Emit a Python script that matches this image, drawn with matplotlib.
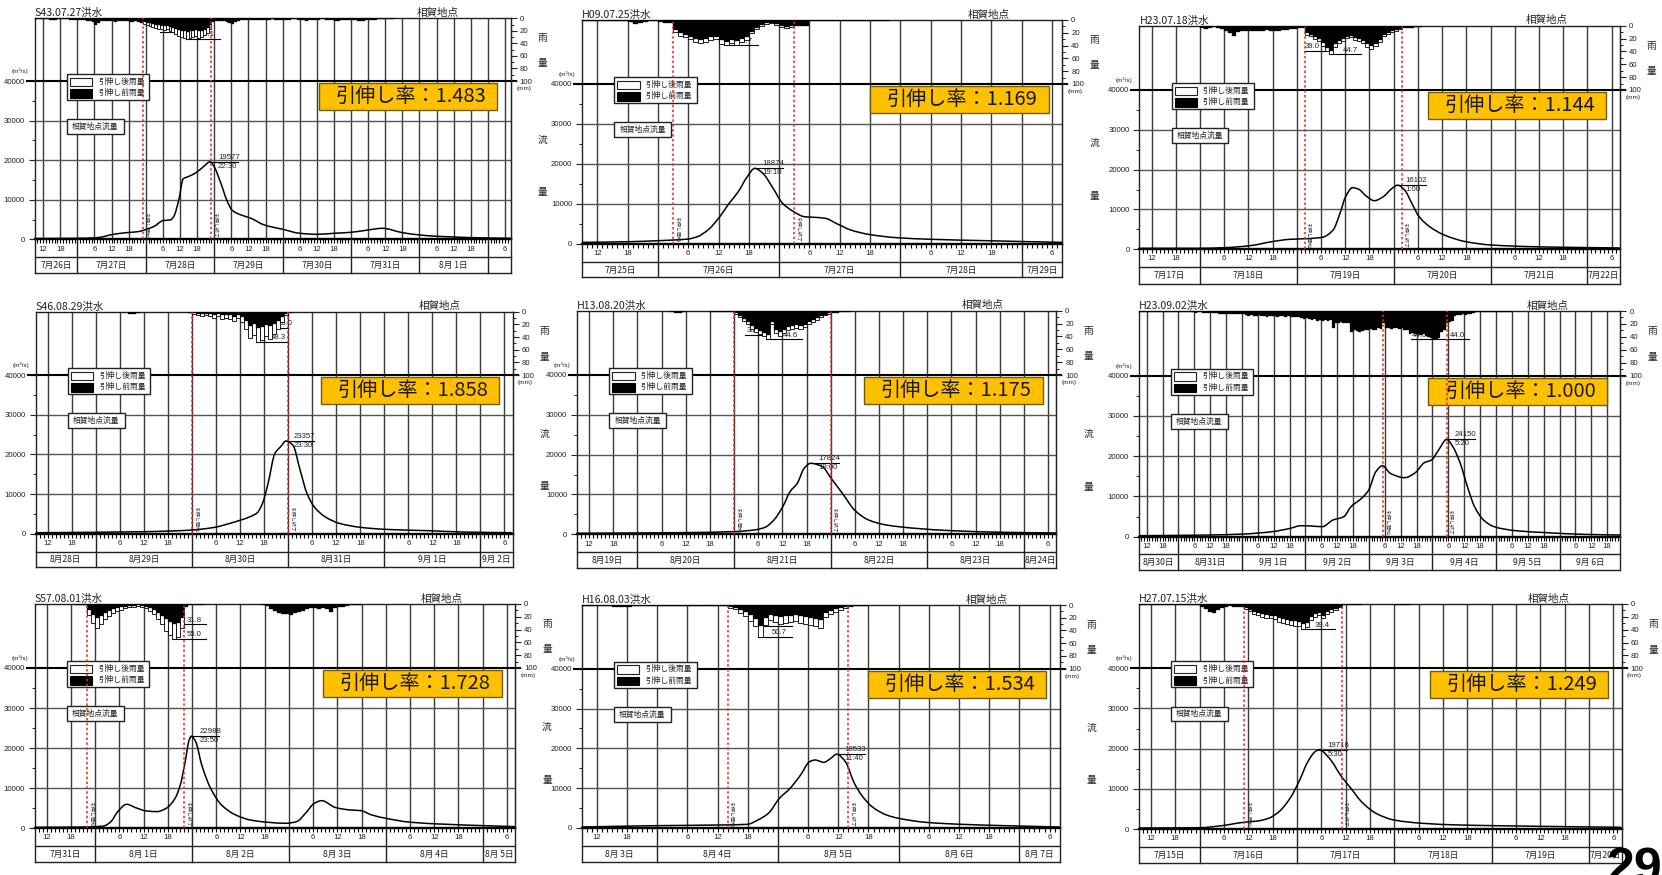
import datetime as dt
import matplotlib
matplotlib.use("Agg")
import matplotlib.pyplot as plt
from matplotlib import font_manager
from matplotlib.patches import Rectangle, PathPatch
from matplotlib.path import Path

W, H = 1662, 875


def first_font(names):
    have = {f.name for f in font_manager.fontManager.ttflist}
    for n in names:
        if n in have:
            return n
    return "DejaVu Sans"


JP = first_font(["Noto Sans CJK JP", "Noto Sans CJK SC"])
NUM = first_font(["Liberation Sans Narrow", "DejaVu Sans Condensed", "Liberation Sans"])
BOLD = first_font(["Liberation Sans", "DejaVu Sans"])
plt.rcParams["font.family"] = [JP, "DejaVu Sans"]

# ---------------------------------------------------------------- data
# flow hydrographs: hours from 9:00 of the first day, discharge (m3/s)
# rainfall: hourly basin rainfall before stretching (mm), from hour 0

TITLE_1 = "S43.07.27洪水"
START_1 = (1968, 7, 26)
SPAN_1 = 167
RATIO_1 = 1.483
WIN_1 = 38
FLOW_H_1 = [0, 15, 22, 27.7, 32.4, 36.5, 39.2, 41.8, 45.1, 47.7, 48.8, 50.6, 52.1, 54.1, 56.5,
            59.4, 61.5, 62.9, 65.3, 67.6, 69.4, 72.3, 75.8, 80.5, 87, 93, 99, 105, 111, 117,
            122, 129, 135, 141, 147, 153, 159, 167]
FLOW_Q_1 = [200, 250, 420, 1270, 1690, 1950, 2540, 3220, 4740, 4910, 5760, 10000, 15250, 15900,
            16770, 18460, 19577, 18460, 14230, 9570, 7280, 6180, 5340, 3640, 2530, 1520, 1260,
            1520, 1770, 2360, 2780, 1680, 1100, 760, 590, 420, 340, 250]
RAIN_1 = [1, 1, 1, 1, 1, 2, 2, 2, 1, 1, 1, 1, 2, 2, 2,
          2, 3, 3, 4, 5, 6, 10, 8, 5, 5, 4, 5, 5, 6, 5, 4, 5, 5, 6, 6, 5, 6, 7,
          6, 7, 8, 9, 10, 11, 12, 13, 12, 14, 15, 17, 19, 20, 21, 22.3, 21, 20, 19, 21, 20, 18, 16, 11,
          6, 5, 5, 4, 5, 6, 8, 9, 6, 4, 3, 3, 2, 2,
          2, 2, 2, 3, 2, 2, 2, 1, 2, 2, 3, 2, 2, 2, 1, 1, 2, 2, 3, 4, 3, 2, 2, 2, 1, 1, 2, 2, 3, 4,
          5, 3, 2, 2, 2, 2, 3, 4, 5, 5, 3, 2, 2, 2, 1, 1, 1, 1, 1, 1]

TITLE_2 = "H09.07.25洪水"
START_2 = (1997, 7, 25)
SPAN_2 = 95
RATIO_2 = 1.169
WIN_2 = 18
FLOW_H_2 = [0, 9.3, 15, 18, 21, 22.8, 24.9, 27, 29.1, 30.9, 32.7, 34.17, 35.8, 37.6, 39.7, 41.9,
            44, 46.1, 48.2, 50.3, 53.2, 56.7, 62.3, 69.4, 80, 95]
FLOW_Q_2 = [330, 500, 750, 920, 1170, 1750, 3420, 6350, 10100, 13000, 16800, 18874, 17600, 14300,
            10100, 8000, 6760, 6600, 6350, 5090, 3420, 2340, 1500, 1090, 750, 330]
RAIN_2 = [1, 1, 1, 1, 1, 1, 1, 1, 1,
          3, 6, 5, 3, 2, 2,
          3, 5, 4,
          16, 21, 23, 26, 30, 31, 30, 27, 26, 32, 34, 31, 33, 30, 27, 18, 12, 8, 5, 4, 7, 10, 11, 10,
          10, 10, 9, 2, 1, 1, 1, 1, 1, 1, 1, 1, 1, 1, 1, 1, 1, 1, 1]

TITLE_3 = "H23.07.18洪水"
START_3 = (2011, 7, 17)
SPAN_3 = 119
RATIO_3 = 1.144
WIN_3 = 41
FLOW_H_3 = [0, 15, 21.3, 27.5, 32.9, 37.3, 41.7, 45.3, 48, 49.7, 51.1, 52.8, 54.2, 56.4, 58.2,
            60.4, 62.6, 64, 65.7, 67.5, 69.3, 71.9, 75.5, 80.8, 87, 96.8, 105.7, 119]
FLOW_Q_3 = [250, 250, 420, 920, 1930, 2510, 2680, 3010, 4850, 9040, 13220, 15480, 15150, 13200,
            12200, 13200, 15300, 16102, 14900, 11550, 8200, 5690, 3600, 1930, 1090, 670, 500, 330]
RAIN_3 = [1, 1, 1, 1, 1, 1, 1, 1, 1, 1, 1, 1, 1, 1, 1,
          3, 5, 3, 2, 3, 5, 9, 12, 16, 10, 8, 9, 9, 8, 8, 8, 7, 8, 9, 8, 7, 6, 5, 5, 4, 4,
          12, 14, 18, 21, 27, 34, 39.04, 29, 24, 21, 17, 16, 19, 21, 24, 29, 31, 28, 22, 14, 11, 9, 7, 5,
          4, 3, 3, 2, 2, 1, 1, 1]

TITLE_4 = "S46.08.29洪水"
START_4 = (1971, 8, 28)
SPAN_4 = 119
RATIO_4 = 1.858
WIN_4 = 39
FLOW_H_4 = [0, 26.8, 39, 44.6, 49, 53.5, 55.3, 56.6, 58, 59.7, 61.1, 62.5, 64.2, 66, 67.7, 69.5,
            72.2, 75.8, 81.1, 87.3, 98, 106.9, 119]
FLOW_Q_4 = [250, 500, 920, 1600, 2770, 4280, 5290, 7640, 12700, 20240, 21900, 23357, 22300, 16000,
            10160, 6800, 4280, 2600, 1600, 1090, 760, 420, 250]
RAIN_4 = [1, 0, 1, 1, 1, 1, 1, 1, 1, 0, 0, 1, 1, 1, 1, 1, 1, 1, 1, 1, 1, 1, 1,
          3, 3, 2, 1,
          1, 1, 1, 1, 1, 1, 1, 1, 1, 1, 1, 2,
          2, 3, 4, 3, 4, 5, 4, 6, 5, 6, 8, 5, 9, 15, 22, 20, 26, 24, 21, 23, 19, 15, 9, 3,
          2, 1, 1, 1, 1, 1, 1, 1, 1, 1, 1, 1, 1]

TITLE_5 = "H13.08.20洪水"
START_5 = (2001, 8, 19)
SPAN_5 = 119
RATIO_5 = 1.175
WIN_5 = 39
FLOW_H_5 = [0, 26.3, 39, 44, 46.7, 48.9, 51.1, 52.9, 54.7, 56.4, 58, 60.9, 63.1, 66.2, 68.9, 72.4,
            76.8, 83.9, 92.8, 106.1, 119]
FLOW_Q_5 = [250, 420, 670, 1090, 1760, 3600, 6950, 10700, 12800, 16570, 17824, 17000, 14060, 9880,
            6110, 3600, 2340, 1510, 920, 500, 330]
RAIN_5 = [1, 1, 1, 1, 1, 1, 1, 1, 1, 1, 1, 1, 1, 1, 1, 1, 1, 1, 1, 1, 1, 1, 1, 2, 3, 3, 2, 1, 1,
          1, 1, 1, 1, 2, 2, 2, 2, 2, 2,
          4, 8, 13, 18, 24, 28, 31, 34, 37.98, 17, 30, 33, 30, 26, 24, 23, 24, 22, 18, 15, 12, 9, 6, 4,
          3, 3, 2, 2, 2, 1, 1, 1, 1, 1]

TITLE_6 = "H23.09.02洪水"
START_6 = (2011, 8, 30)
SPAN_6 = 182
RATIO_6 = 1.000
WIN_6 = 92.33
FLOW_H_6 = [0, 26, 39.5, 50.4, 57.2, 61.2, 65.3, 69.3, 73.4, 77.5, 80.2, 84.2, 86.9, 89.6, 92.1,
            95.1, 100.5, 104.5, 107.9, 110.6, 113.3, 116.33, 118.7, 121.5, 124.2, 126.9, 130.3,
            134.3, 142.5, 154.6, 168.2, 182]
FLOW_Q_6 = [250, 410, 660, 1240, 2070, 2730, 2650, 2480, 4140, 4970, 7450, 9520, 11590, 16150,
            17640, 15730, 14660, 15900, 18380, 19040, 21530, 24150, 22360, 18220, 12420, 7450,
            4140, 2480, 1490, 990, 580, 410]
RAIN_6 = [1, 1, 2, 1, 1, 2, 2, 1, 1, 1, 2, 2, 1, 1, 2, 2, 2, 2, 2, 2, 2, 3, 2, 2, 3, 3, 3, 3, 3, 3,
          4, 4, 5, 4, 4, 5, 4, 4, 5, 5,
          6, 7, 6, 7, 8, 6, 7, 8, 9, 8, 7, 8, 9, 7, 8, 9, 8, 9, 10, 9, 10,
          11, 12, 11, 12,
          14, 13, 15, 14, 16, 14, 15, 14,
          27,
          18, 19, 17, 18, 19, 18,
          32, 30, 31, 33, 31, 30,
          29, 28, 30, 29, 27, 28,
          19,
          27, 26, 28, 27, 26, 28, 27, 29, 30,
          35, 34, 36, 35, 37, 36, 38, 40,
          42, 43, 44.0, 42,
          32, 30,
          19, 17, 15,
          8, 6, 6, 5, 6, 5, 4, 3,
          2, 2, 2, 2, 2, 2, 2, 1, 1, 1, 1, 1, 1, 1]

TITLE_7 = "S57.08.01洪水"
START_7 = (1982, 7, 31)
SPAN_7 = 119
RATIO_7 = 1.728
WIN_7 = 13
FLOW_H_7 = [0, 13, 17.1, 18.9, 20.6, 22.8, 25, 27.7, 30.3, 32.6, 34.8, 36.1, 37.3, 38.3, 38.83,
            39.9, 41.4, 43.6, 46.3, 49.8, 53.4, 57.8, 62.2, 64.9, 67.1, 69.3, 71.1, 74.6, 78.1,
            80.8, 83.5, 87, 93.2, 102, 110.9, 119]
FLOW_Q_7 = [250, 330, 580, 1660, 4160, 5990, 5160, 4330, 4160, 4990, 7490, 10820, 16640, 22050,
            22988, 21630, 15810, 9980, 5820, 3330, 2080, 1500, 1250, 1660, 3740, 6240, 6900, 5160,
            4580, 4410, 3330, 2500, 1500, 1000, 670, 420]
RAIN_7 = [0, 0, 0, 0, 0, 0, 0, 0, 0, 0, 1, 1, 2,
          10, 17, 22, 18, 14, 11, 8, 6, 5, 4, 3, 3, 2, 3, 4, 6, 9, 14, 18, 24, 28, 31.8, 30, 22,
          5, 2, 1, 1, 1, 0, 0, 0, 0, 0, 0, 0, 0, 0, 0, 0, 0, 0, 0, 1,
          3, 8, 11, 14, 16, 15, 17, 14, 12, 11, 8, 7, 6, 8, 7, 8, 12, 6, 5, 4, 3, 2, 2, 1]

TITLE_8 = "H16.08.03洪水"
START_8 = (2004, 8, 3)
SPAN_8 = 95
RATIO_8 = 1.534
WIN_8 = 29
FLOW_H_8 = [0, 15.1, 27.2, 32.9, 35, 37.1, 39.3, 41.4, 43.5, 45.3, 46.4, 48.1, 49.5, 50.67, 52.4,
            54.2, 55.6, 57.7, 60.6, 63, 68.4, 75.5, 84, 95]
FLOW_Q_8 = [250, 590, 750, 920, 2010, 3680, 7450, 9960, 13310, 16660, 17080, 16490, 17490, 18533,
            16660, 11220, 8290, 5360, 3260, 2430, 1420, 920, 590, 250]
RAIN_8 = [1, 1, 1, 2, 2, 2, 3, 3, 3, 3, 2, 1, 1, 1, 1,
          1, 1, 1, 1, 1, 1, 1, 1, 1, 1, 1, 1, 2, 2,
          3, 4, 8, 11, 16, 22, 33.04, 20, 15, 17, 19, 18, 17, 16, 18, 19, 20, 22, 24, 12, 9, 7, 5, 3,
          3, 2, 1, 1]

TITLE_9 = "H27.07.15洪水"
START_9 = (2015, 7, 15)
SPAN_9 = 119
RATIO_9 = 1.249
WIN_9 = 26
FLOW_H_9 = [0, 15.2, 20.5, 25.8, 29.3, 32, 34.6, 37.3, 39.5, 41.7, 43.5, 44.5, 47, 50, 52.3, 54.9,
            58.5, 62.9, 70, 78.8, 87.7, 105.3, 119]
FLOW_Q_9 = [250, 330, 830, 1660, 1990, 2660, 4320, 7640, 11790, 16770, 19260, 19716, 17600, 13030,
            10130, 6810, 3900, 2240, 1410, 1000, 830, 580, 420]
RAIN_9 = [1, 1, 1, 1, 1, 1, 1, 1, 1, 1, 1, 1, 1, 1, 1,
          4, 8, 12, 14, 10, 6, 4, 3, 4, 5, 5,
          6, 9, 12, 14, 16, 17, 18, 19, 22, 24, 25, 26, 27, 28, 31.54, 29, 20, 16, 14, 18, 12, 10, 7, 4,
          2, 2, 1, 1, 1, 0, 0, 0, 0, 0, 0, 0, 0, 1, 2, 2, 1]

# maximum-rainfall tags: (side, line length px, text offset px) for the
# unstretched and stretched maxima; None = tag not shown
TAGS_1 = (("L", 26, 0), ("R", 34, 14))
TAGS_2 = (None, ("R", 34, 14))
TAGS_3 = (("L", 25, 0), ("R", 32, 14))
TAGS_4 = (("R", 32, 22), ("R", 32, 15))
TAGS_5 = (("L", 21, 0), ("R", 36, 17))
TAGS_6 = (("L", 24, 0), ("R", 34, 15))
TAGS_7 = (("R", 34, 15), ("R", 34, 15))
TAGS_8 = (("R", 34, 14), ("R", 34, 14))
TAGS_9 = (None, ("R", 34, 14))

STATION = "相賀地点"
LEGEND_AFTER = "引伸し後雨量"
LEGEND_BEFORE = "引伸し前雨量"
FLOW_NAME = "相賀地点流量"
MARK_START = "引伸し開始"
MARK_END = "引伸し終了"
PAGE = "29"

FLOODS = [
    (TITLE_1, START_1, SPAN_1, RATIO_1, WIN_1, FLOW_H_1, FLOW_Q_1, RAIN_1, TAGS_1),
    (TITLE_2, START_2, SPAN_2, RATIO_2, WIN_2, FLOW_H_2, FLOW_Q_2, RAIN_2, TAGS_2),
    (TITLE_3, START_3, SPAN_3, RATIO_3, WIN_3, FLOW_H_3, FLOW_Q_3, RAIN_3, TAGS_3),
    (TITLE_4, START_4, SPAN_4, RATIO_4, WIN_4, FLOW_H_4, FLOW_Q_4, RAIN_4, TAGS_4),
    (TITLE_5, START_5, SPAN_5, RATIO_5, WIN_5, FLOW_H_5, FLOW_Q_5, RAIN_5, TAGS_5),
    (TITLE_6, START_6, SPAN_6, RATIO_6, WIN_6, FLOW_H_6, FLOW_Q_6, RAIN_6, TAGS_6),
    (TITLE_7, START_7, SPAN_7, RATIO_7, WIN_7, FLOW_H_7, FLOW_Q_7, RAIN_7, TAGS_7),
    (TITLE_8, START_8, SPAN_8, RATIO_8, WIN_8, FLOW_H_8, FLOW_Q_8, RAIN_8, TAGS_8),
    (TITLE_9, START_9, SPAN_9, RATIO_9, WIN_9, FLOW_H_9, FLOW_Q_9, RAIN_9, TAGS_9),
]

# panel frames in pixels: left, right, top, 40000-line, zero-flow line,
# hour-row bottom, date-row bottom
FRAMES = [
    (34.6, 510.7, 18.3, 81.0, 239.3, 257.3, 273.3),
    (582.1, 1062.1, 20.0, 84.0, 243.7, 261.7, 277.3),
    (1139.4, 1619.7, 25.7, 90.0, 249.3, 266.7, 284.0),
    (35.7, 512.5, 311.7, 375.0, 533.7, 551.7, 566.7),
    (577.1, 1056.1, 310.7, 375.0, 534.3, 552.3, 567.7),
    (1138.7, 1620.4, 311.0, 375.7, 536.7, 554.3, 570.0),
    (34.6, 515.0, 604.0, 668.0, 828.3, 846.0, 861.7),
    (581.8, 1059.6, 605.0, 668.7, 828.0, 845.7, 861.7),
    (1138.7, 1621.5, 604.0, 668.3, 829.0, 846.7, 862.7),
]

GRID = "#3a3a3a"
FRAME = "#222222"
RED = "#e8261f"
ORANGE = "#ffc000"

fig = plt.figure(figsize=(W / 100, H / 100), dpi=100)
fig.patch.set_facecolor("white")


def frect(l, t, r, b):
    return [l / W, 1 - b / H, (r - l) / W, (b - t) / H]


def ftext(x, y, s, **kw):
    fig.text(x / W, 1 - y / H, s, **kw)


def hydro_path(x, y):
    """Monotone (shape-preserving) cubic Bezier path through the points."""
    n = len(x)
    d = [(y[i + 1] - y[i]) / (x[i + 1] - x[i]) for i in range(n - 1)]
    m = [0.0] * n
    m[0], m[-1] = d[0], d[-1]
    for i in range(1, n - 1):
        if d[i - 1] * d[i] <= 0:
            m[i] = 0.0
        else:
            h0, h1 = x[i] - x[i - 1], x[i + 1] - x[i]
            w1, w2 = 2 * h1 + h0, h1 + 2 * h0
            m[i] = (w1 + w2) / (w1 / d[i - 1] + w2 / d[i])
    verts = [(x[0], y[0])]
    codes = [Path.MOVETO]
    for i in range(n - 1):
        h = x[i + 1] - x[i]
        verts += [(x[i] + h / 3, y[i] + m[i] * h / 3),
                  (x[i + 1] - h / 3, y[i + 1] - m[i + 1] * h / 3),
                  (x[i + 1], y[i + 1])]
        codes += [Path.CURVE4] * 3
    return Path(verts, codes)


def draw_panel(frame, flood, col):
    title, (yy, mm, dd), span, ratio, win, fh, fq, rain, tags = flood
    L, R, T, L40, F0, HB, DB = frame
    pxh = (R - L) / span
    qtop = 40000 * (F0 - T) / (F0 - L40)
    pxq = (F0 - L40) / 40000.0
    qmm = 400.0 * (L40 - T) / (F0 - L40)      # flow units per mm of rain
    start = dt.datetime(yy, mm, dd, 9)

    def r2q(r):
        return qtop - r * qmm

    def dx(px):
        return px / pxh

    def dq(px):
        return px / pxq

    ax = fig.add_axes(frect(L, T, R, F0))
    ax.set_xlim(0, span)
    ax.set_ylim(0, qtop)
    ax.patch.set_alpha(0)
    for s in ("top", "left", "right"):
        ax.spines[s].set_color(FRAME)
        ax.spines[s].set_linewidth(1.0)
    ax.spines["bottom"].set_color("black")
    ax.spines["bottom"].set_linewidth(1.7)

    # grid: every 6 hours, every 10000 m3/s
    for h in range(1, span):
        if (start + dt.timedelta(hours=h)).hour % 6 == 0:
            ax.axvline(h, color=GRID, lw=1.0, zorder=1)
    for q in (10000, 20000, 30000):
        ax.axhline(q, color="#555555", lw=1.0, zorder=1)
    ax.plot([-dx(8), span + dx(5)], [40000, 40000], color="black", lw=1.5,
            clip_on=False, zorder=2)

    # flow axis
    ax.set_yticks([0, 10000, 20000, 30000, 40000])
    ax.set_yticklabels(["0", "10000", "20000", "30000", "40000"], fontfamily=NUM, fontsize=5.6)
    ax.set_yticks([5000, 15000, 25000, 35000], minor=True)
    ax.tick_params(axis="y", which="major", direction="out", length=4, width=0.8, pad=3,
                   colors="#222222")
    ax.tick_params(axis="y", which="minor", direction="out", length=2.5, width=0.7,
                   colors="#222222")
    ax.set_xticks([])
    ax.set_xticks(range(1, span), minor=True)
    ax.tick_params(axis="x", which="minor", direction="out", length=3.2, width=0.8,
                   colors="black", labelbottom=False)

    # rain axis on the right, hanging from the top
    ar = ax.twinx()
    ar.set_ylim(100 * (F0 - T) / (L40 - T), 0)
    for s in ("top", "left", "bottom"):
        ar.spines[s].set_visible(False)
    ar.spines["right"].set_color(FRAME)
    ar.set_yticks([0, 20, 40, 60, 80, 100])
    ar.set_yticklabels(["0", "20", "40", "60", "80", "100"], fontfamily=NUM, fontsize=5.6)
    ar.set_yticks([10, 30, 50, 70, 90], minor=True)
    ar.tick_params(axis="y", which="major", direction="out", length=4, width=0.8, pad=2.5,
                   colors="#222222")
    ar.tick_params(axis="y", which="minor", direction="out", length=2.5, width=0.7,
                   colors="#222222")

    # hydrograph
    ax.add_patch(PathPatch(hydro_path(fh, fq), fill=False, edgecolor="black", lw=1.1,
                           zorder=3, joinstyle="round"))
    ip = max(range(len(fq)), key=lambda i: fq[i])
    hp, qp = fh[ip], fq[ip]
    tp = start + dt.timedelta(minutes=round(hp * 60))
    ax.plot([hp, hp + dx(28)], [qp, qp], color="black", lw=0.8, zorder=3)
    ax.text(hp + dx(8), qp + dq(1), f"{qp}", fontfamily=NUM, fontsize=5.6,
            ha="left", va="bottom", color="#222222", zorder=3)
    ax.text(hp + dx(8), qp - dq(1), f"{tp.hour}:{tp.minute:02d}", fontfamily=NUM,
            fontsize=5.6, ha="left", va="top", color="#222222", zorder=3)

    # rainfall bars
    hours = list(range(len(rain)))
    inside = [win <= h + 0.5 <= win + 24 for h in hours]
    wh = [h for h, k in zip(hours, inside) if k]
    wv = [v for v, k in zip(rain, inside) if k]
    if ratio != 1.0:
        ax.bar(wh, [-v * ratio * qmm for v in wv], bottom=qtop, width=1, align="edge",
               color="white", edgecolor="black", linewidth=0.6, zorder=4)
    ax.bar(hours, [-v * qmm for v in rain], bottom=qtop, width=1, align="edge",
           color="black", edgecolor="black", linewidth=0.2, zorder=4.5)

    # maximum-rainfall tags
    iw = max(range(len(wv)), key=lambda i: wv[i])
    hb = wh[iw]
    for tag, val in zip(tags, (wv[iw], wv[iw] * ratio)):
        if tag is None:
            continue
        side, length, off = tag
        y = r2q(val)
        if side == "L":
            x0, x1 = hb - dx(length), hb
            tx = x0 + dx(1)
        else:
            x0, x1 = hb, hb + dx(length)
            tx = hb + dx(off)
        ax.plot([x0, x1], [y, y], color="black", lw=0.8, zorder=3.5)
        ax.text(tx, y + dq(0.8), f"{val:.1f}", fontfamily=NUM, fontsize=5.6,
                ha="left", va="bottom", color="#222222", zorder=3.5)

    # legend and series boxes
    def prect(x0px, y0px, x1px, y1px, **kw):
        # rectangle given in pixels relative to the panel's left edge / 40000 line
        x0 = dx(x0px)
        x1 = dx(x1px)
        q0 = 40000 - dq(y1px)
        q1 = 40000 - dq(y0px)
        ax.add_patch(Rectangle((x0, q0), x1 - x0, q1 - q0, **kw))

    prect(32.2, -7, 114.7, 19, facecolor="white", edgecolor="#222222", lw=1.0, zorder=5)
    prect(35.2, -3.3, 57.5, 5, facecolor="white", edgecolor="#222222", lw=0.8, zorder=5.1)
    prect(35.2, 8, 57.5, 16.7, facecolor="black", edgecolor="black", lw=0.8, zorder=5.1)
    ax.text(dx(63.5), 40000 - dq(0.7), LEGEND_AFTER, fontsize=5.6, ha="left", va="center",
            color="#222222", zorder=5.2)
    ax.text(dx(63.5), 40000 - dq(12.3), LEGEND_BEFORE, fontsize=5.6, ha="left", va="center",
            color="#222222", zorder=5.2)
    prect(32.2, 38.3, 89, 53, facecolor="white", edgecolor="#222222", lw=1.0, zorder=5)
    ax.text(dx(60.6), 40000 - dq(45.7), FLOW_NAME, fontsize=5.6, ha="center", va="center",
            color="#222222", zorder=5.2)

    # stretching ratio box
    bw = 178.5
    xr = R - L - 13.5
    prect(xr - bw, 2.3, xr, 29.3, facecolor=ORANGE, edgecolor="#6e5a10", lw=1.0, zorder=5)
    ax.text(dx(xr - bw / 2 + 3), 40000 - dq(15.8), f"引伸し率：{ratio:.3f}", fontsize=14.5,
            ha="center", va="center", color="#1a1a1a", zorder=5.2)

    # stretching window
    for xw, mark in ((win, MARK_START), (win + 24, MARK_END)):
        ax.axvline(xw, color=RED, lw=1.1, ls=(0, (1.6, 1.6)), zorder=6)
        ax.text(xw + dx(1.2), dq(1.5), mark, fontsize=3.6, rotation=-90, ha="left",
                va="bottom", color="#333333", zorder=6)

    # hour / date table
    at = fig.add_axes(frect(L, F0, R, DB))
    at.set_xlim(0, span)
    at.set_ylim(DB - F0, 0)
    at.axis("off")
    hr = HB - F0
    lk = dict(color=FRAME, lw=1.0, clip_on=False)
    at.plot([0, span], [hr, hr], **lk)
    at.plot([0, span], [DB - F0, DB - F0], **lk)
    at.plot([0, 0], [0, DB - F0], **lk)
    at.plot([span, span], [0, DB - F0], **lk)
    bounds = [0]
    for h in range(1, span):
        t = start + dt.timedelta(hours=h)
        if t.hour == 0:
            bounds.append(h)
            at.plot([h, h], [0, DB - F0], **lk)
        elif t.hour % 6 == 0:
            at.text(h, hr / 2 + 0.8, str(t.hour), fontfamily=NUM, fontsize=5.6,
                    ha="center", va="center", color="#222222")
    bounds.append(span)
    for k in range(len(bounds) - 1):
        a, b = bounds[k], bounds[k + 1]
        if (b - a) * pxh < 25:
            continue
        d = (start + dt.timedelta(hours=a)).date()
        at.text((a + b) / 2, hr + (DB - HB) / 2 + 0.5, f"{d.month}月{d.day:2d}日",
                fontsize=6.2, ha="center", va="center", color="#222222")

    # surrounding labels
    ftext(L, T - 2.3, title, fontsize=7.6, ha="left", va="baseline", color="#222222")
    ftext(R - 52, T - 2.3, STATION, fontsize=7.6, ha="right", va="baseline", color="#222222")
    ftext(L - 15, L40 - 10, "(m³/s)", fontfamily=NUM, fontsize=4.6, ha="center",
          va="center", color="#222222")
    ftext(R + 13, L40 + 7.5, "(mm)", fontfamily=NUM, fontsize=4.6, ha="center",
          va="center", color="#222222")
    ftext(R + 32, T + 0.31 * (L40 - T), "雨", fontsize=7, ha="center", va="center",
          color="#222222")
    ftext(R + 32, T + 0.71 * (L40 - T), "量", fontsize=7, ha="center", va="center",
          color="#222222")
    if col < 2:
        ftext(R + 32, L40 + 0.37 * (F0 - L40), "流", fontsize=7, ha="center", va="center",
              color="#222222")
        ftext(R + 32, L40 + 0.70 * (F0 - L40), "量", fontsize=7, ha="center", va="center",
              color="#222222")


for i, (frame, flood) in enumerate(zip(FRAMES, FLOODS)):
    draw_panel(frame, flood, i % 3)

ftext(1606, 883, PAGE, fontfamily=BOLD, fontweight="bold", fontsize=36, ha="left",
      va="baseline", color="black")

fig.savefig("out.png", dpi=100, facecolor="white")
